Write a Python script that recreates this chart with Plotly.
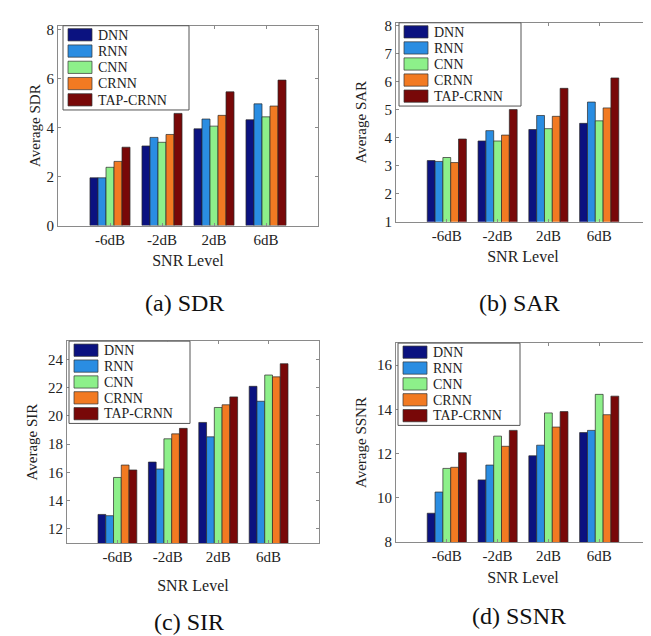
import plotly.graph_objects as go

snr_levels = ["-6dB", "-2dB", "2dB", "6dB"]
models = ["DNN", "RNN", "CNN", "CRNN", "TAP-CRNN"]
model_colors = ["#0B1280", "#2A8DE2", "#8DF08A", "#F27A22", "#780808"]

# Average SDR
sdr_dnn = [1.95, 3.25, 3.95, 4.32]
sdr_rnn = [1.95, 3.60, 4.35, 4.97]
sdr_cnn = [2.38, 3.40, 4.06, 4.44]
sdr_crnn = [2.62, 3.72, 4.50, 4.88]
sdr_tap = [3.20, 4.58, 5.46, 5.94]

# Average SAR
sar_dnn = [3.18, 3.88, 4.29, 4.51]
sar_rnn = [3.15, 4.25, 4.79, 5.27]
sar_cnn = [3.29, 3.88, 4.32, 4.60]
sar_crnn = [3.11, 4.09, 4.76, 5.06]
sar_tap = [3.95, 5.00, 5.76, 6.13]

# Average SIR
sir_dnn = [13.02, 16.73, 19.54, 22.10]
sir_rnn = [12.93, 16.24, 18.52, 21.04]
sir_cnn = [15.64, 18.38, 20.60, 22.90]
sir_crnn = [16.52, 18.73, 20.79, 22.77]
sir_tap = [16.17, 19.12, 21.35, 23.70]

# Average SSNR
ssnr_dnn = [9.30, 10.81, 11.90, 12.95]
ssnr_rnn = [10.26, 11.48, 12.38, 13.05]
ssnr_cnn = [11.33, 12.79, 13.84, 14.68]
ssnr_crnn = [11.38, 12.33, 13.20, 13.76]
ssnr_tap = [12.04, 13.05, 13.90, 14.60]

W, H = 651, 636

def px(x):
    return x / W

def py(y):
    return 1 - y / H

panels = [
    dict(series=[sdr_dnn, sdr_rnn, sdr_cnn, sdr_crnn, sdr_tap], ytitle="Average SDR",
         caption="(a) SDR", yrange=[0, 8.16], tickvals=[0, 2, 4, 6, 8],
         box=(50, 13, 310, 217), standoff_y=2, standoff_x=8,
         legend_box=(55, 13, 181, 99), cap_y=296),
    dict(series=[sar_dnn, sar_rnn, sar_cnn, sar_crnn, sar_tap], ytitle="Average SAR",
         caption="(b) SAR", yrange=[1, 8.1], tickvals=[1, 2, 3, 4, 5, 6, 7, 8],
         box=(388, 10, 642, 213), standoff_y=14, standoff_x=8,
         legend_box=(391, 10, 513, 95), cap_y=296),
    dict(series=[sir_dnn, sir_rnn, sir_cnn, sir_crnn, sir_tap], ytitle="Average SIR",
         caption="(c) SIR", yrange=[11, 25.3], tickvals=[12, 14, 16, 18, 20, 22, 24],
         box=(59, 335, 311, 541), standoff_y=6, standoff_x=15,
         legend_box=(61, 335, 182, 419), cap_y=622),
    dict(series=[ssnr_dnn, ssnr_rnn, ssnr_cnn, ssnr_crnn, ssnr_tap], ytitle="Average SSNR",
         caption="(d) SSNR", yrange=[8, 17], tickvals=[8, 10, 12, 14, 16],
         box=(388, 337, 642, 540), standoff_y=6, standoff_x=8,
         legend_box=(390, 337, 512, 421), cap_y=616),
]

SERIF = "Liberation Serif"
fig = go.Figure()
layout = dict(
    width=W, height=H, margin=dict(l=0, r=0, t=0, b=0),
    paper_bgcolor="white", plot_bgcolor="white",
    barmode="group", bargap=0.23, bargroupgap=0.0,
    showlegend=False,
    annotations=[], shapes=[],
)

for i, p in enumerate(panels):
    n = i + 1
    xa = "x" if n == 1 else f"x{n}"
    ya = "y" if n == 1 else f"y{n}"
    for m, vals, col in zip(models, p["series"], model_colors):
        fig.add_trace(go.Bar(
            x=snr_levels, y=vals, name=m, xaxis=xa, yaxis=ya,
            marker=dict(color=col, line=dict(color="#2a2a2a", width=0.7)),
        ))
    x0, y0, x1, y1 = p["box"]
    axis_common = dict(showgrid=False, zeroline=False, showline=True, linecolor="#8a8a8a",
                       linewidth=1, mirror="ticks", ticks="inside", ticklen=3, tickcolor="#8a8a8a",
                       tickfont=dict(size=15, family=SERIF, color="#222"))
    layout["xaxis" if n == 1 else f"xaxis{n}"] = dict(
        axis_common, domain=[px(x0), px(x1)], anchor=ya, type="category",
        categoryorder="array", categoryarray=snr_levels, range=[-1, 4],
        title=dict(text="SNR Level", standoff=p["standoff_x"], font=dict(size=16, family=SERIF, color="#222")),
    )
    layout["yaxis" if n == 1 else f"yaxis{n}"] = dict(
        axis_common, domain=[py(y1), py(y0)], anchor=xa, range=p["yrange"], tickvals=p["tickvals"],
        title=dict(text=p["ytitle"], standoff=p["standoff_y"], font=dict(size=15, family=SERIF, color="#222")),
    )
    lx0, ly0, lx1, ly1 = p["legend_box"]
    layout["shapes"].append(dict(type="rect", xref="paper", yref="paper",
                                 x0=px(lx0), x1=px(lx1), y0=py(ly1), y1=py(ly0),
                                 fillcolor="white", line=dict(color="#555", width=1), layer="above"))
    pitch = (ly1 - ly0 - 3) / 5
    for k, (m, col) in enumerate(zip(models, model_colors)):
        top = ly0 + 3 + k * pitch
        layout["shapes"].append(dict(type="rect", xref="paper", yref="paper",
                                     x0=px(lx0 + 5), x1=px(lx0 + 29), y0=py(top + 12.5), y1=py(top),
                                     fillcolor=col, line=dict(color="#333", width=0.7), layer="above"))
        layout["annotations"].append(dict(
            text=m, xref="paper", yref="paper", x=px(lx0 + 33), y=py(top + 6.5),
            xanchor="left", yanchor="middle", showarrow=False,
            font=dict(size=14, family=SERIF, color="#222")))
    layout["annotations"].append(dict(
        text=p["caption"], xref="paper", yref="paper",
        x=px((x0 + x1) / 2 - 4), y=py(p["cap_y"]), xanchor="center", yanchor="middle",
        showarrow=False, font=dict(size=24, family=SERIF, color="#111"),
    ))

fig.update_layout(**layout)
fig.write_html("out.html")
